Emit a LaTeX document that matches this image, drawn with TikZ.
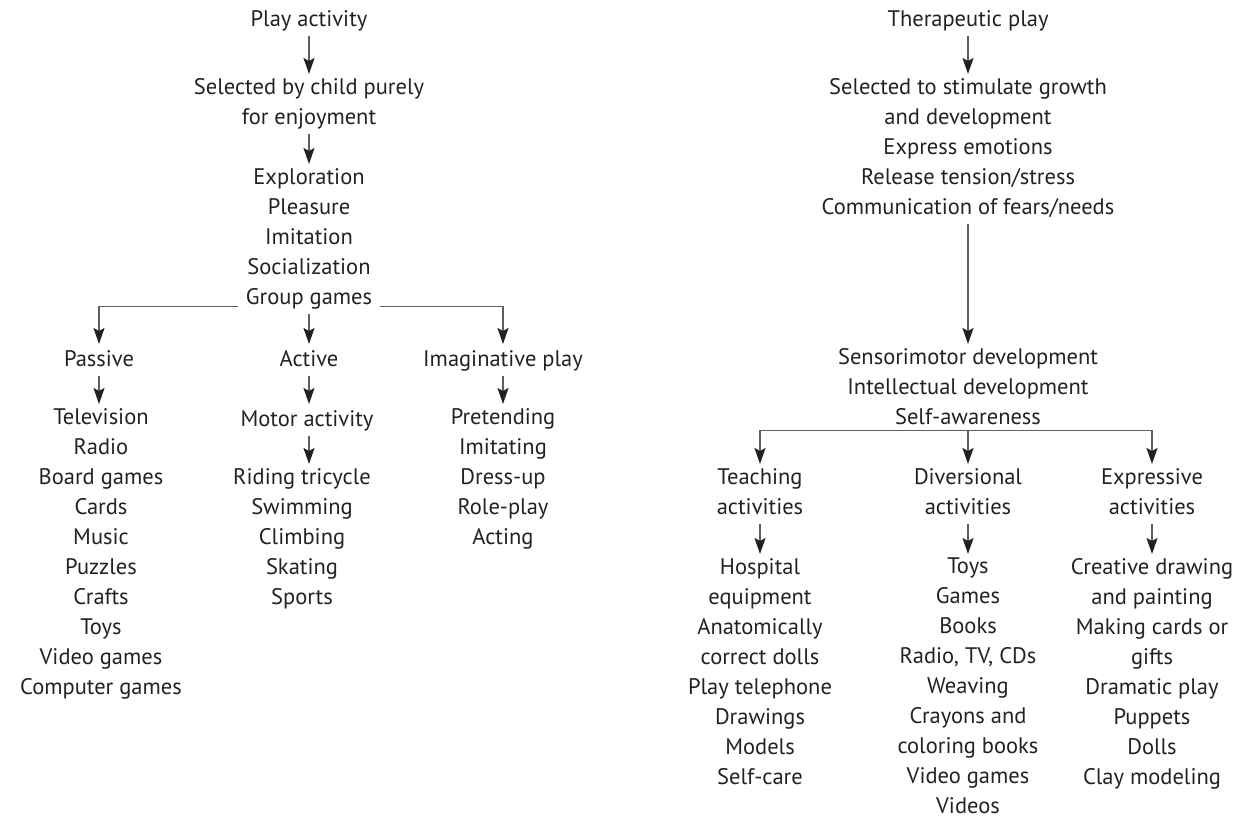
\documentclass[tikz,border=0pt]{standalone}
\usepackage{fontspec}
\setmainfont{PT Sans}
\usetikzlibrary{arrows.meta}
\definecolor{ink}{HTML}{222222}
\definecolor{wirecol}{HTML}{5E5E5E}
\begin{document}
\begin{tikzpicture}[x=1pt,y=-1pt,
  txt/.style={align=center, inner sep=0pt, anchor=north, text=ink,
    font=\fontsize{22.5pt}{30pt}\selectfont,
    execute at begin node={\rule{0pt}{18pt}},
    execute at end node={\rule[-6pt]{0pt}{6pt}}},
  wire/.style={draw=wirecol, line width=1.5pt},
  tip/.style={-{Stealth[length=16pt,width=11pt,inset=3pt,color=ink]}},
  arr/.style={wire, tip, shorten >=4pt, shorten <=4pt},
  brarr/.style={wire, tip, shorten >=4pt}]
\path[use as bounding box] (0,0) rectangle (1236,819);

% ---------- play activity ----------
\node[txt] (play) at (309,8) {Play activity};
\node[txt] (sel)  at (309,78) {Selected by child purely\\for enjoyment};
\node[txt] (why)  at (309,168) {Exploration\\Pleasure\\Imitation\\Socialization\\Group games};
\node[txt] (pas)  at (99,348) {Passive};
\node[txt] (act)  at (309,348) {Active};
\node[txt] (img)  at (503,348) {Imaginative play};
\node[txt] (pasl) at (101,408) {Television\\Radio\\Board games\\Cards\\Music\\Puzzles\\Crafts\\Toys\\Video games\\Computer games};
\node[txt] (mot)  at (307,408) {Motor activity};
\node[txt] (motl) at (302,468) {Riding tricycle\\Swimming\\Climbing\\Skating\\Sports};
\node[txt] (imgl) at (503,408) {Pretending\\Imitating\\Dress-up\\Role-play\\Acting};

\draw[arr] (play) -- (sel);
\draw[arr] (sel) -- (why);
\draw[brarr] ([xshift=-8pt,yshift=4pt]why.south west) -| (pas);
\draw[brarr] ([xshift=8pt,yshift=4pt]why.south east) -| (img);
\draw[arr] (why) -- (act);
\draw[arr] (pas.south) -- (pas.south |- pasl.north);
\draw[arr] (act) -- (act |- mot.north);
\draw[arr] (img) -- (imgl);
\draw[arr] (mot.south -| act) -- (act |- motl.north);

% ---------- therapeutic play ----------
\node[txt] (ther)  at (968,8) {Therapeutic play};
\node[txt] (goal)  at (968,78) {Selected to stimulate growth\\and development\\Express emotions\\Release tension/stress\\Communication of fears/needs};
\node[txt] (dev)   at (968,348) {Sensorimotor development\\Intellectual development\\Self-awareness};
\node[txt] (teach) at (760,468) {Teaching\\activities};
\node[txt] (div)   at (968,468) {Diversional\\activities};
\node[txt] (expr)  at (1152,468) {Expressive\\activities};
\node[txt] (teachl) at (760,558) {Hospital\\equipment\\Anatomically\\correct dolls\\Play telephone\\Drawings\\Models\\Self-care};
\node[txt] (divl)   at (968,558) {Toys\\Games\\Books\\Radio, TV, CDs\\Weaving\\Crayons and\\coloring books\\Video games\\Videos};
\node[txt] (exprl)  at (1152,558) {Creative drawing\\and painting\\Making cards or\\gifts\\Dramatic play\\Puppets\\Dolls\\Clay modeling};

\draw[arr] (ther) -- (goal);
\draw[arr] (goal) -- (dev);
\draw[wire] (teach.north |- dev.south) -- (expr.north |- dev.south);
\draw[brarr] (teach.north |- dev.south) -- (teach);
\draw[brarr] (dev.south) -- (div);
\draw[brarr] (expr.north |- dev.south) -- (expr);
\draw[arr] (teach) -- (teachl);
\draw[arr] (div) -- (divl);
\draw[arr] (expr) -- (exprl);
\end{tikzpicture}
\end{document}
